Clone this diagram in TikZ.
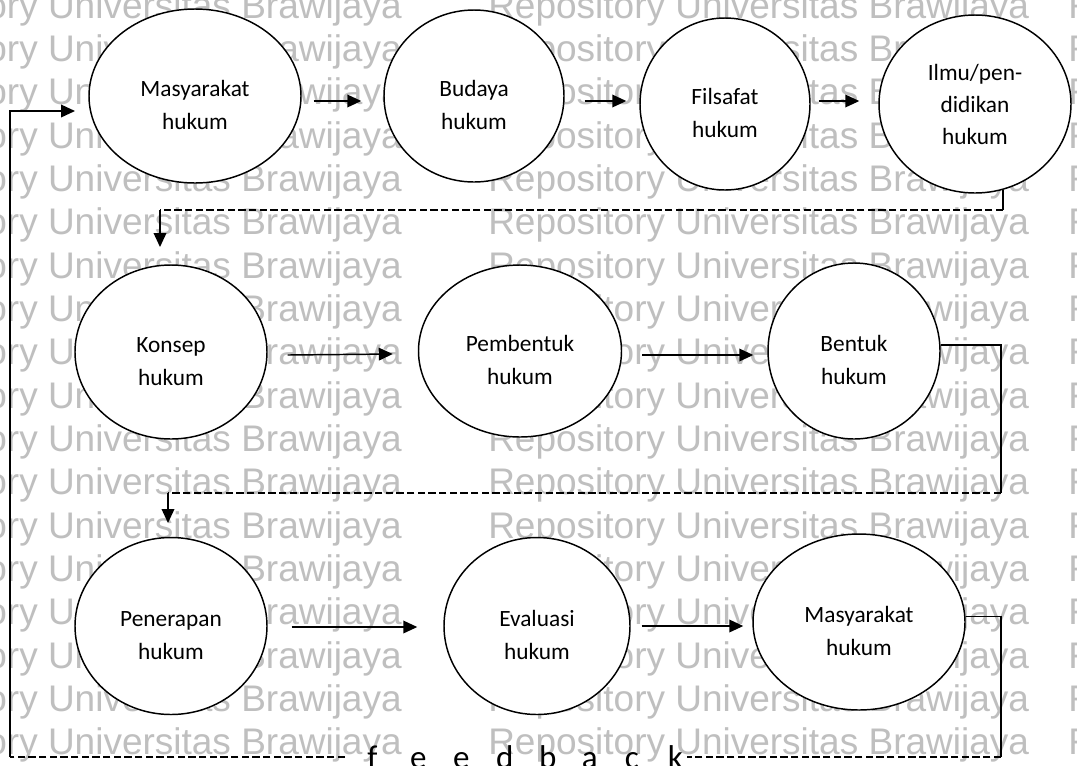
\documentclass[tikz,border=0pt]{standalone}
\usepackage{fontspec}
\setmainfont{Carlito}
\newfontfamily\wmfont{Liberation Sans}
\usetikzlibrary{shapes.geometric,arrows.meta,calc}
\newcommand\fbl[1]{\makebox[32.2pt][l]{#1}}
\begin{document}
\begin{tikzpicture}[x=0.75pt,y=-0.75pt,
  ell/.style={draw, line width=1.1pt, fill=white, ellipse, inner sep=0pt},
  lbl/.style={font=\fontsize{17.5}{24.75}\selectfont, align=center, inner sep=0pt, yshift=-7pt},
  lbl3/.style={font=\fontsize{17.5}{24}\selectfont, align=center, inner sep=0pt},
  arr/.style={line width=1.1pt, -{Triangle[length=10.5pt,width=9.5pt]}},
  ln/.style={line width=1.1pt},
  dsh/.style={line width=1.1pt, dash pattern=on 5.5pt off 2.5pt},
  wm/.style={font=\wmfont\fontsize{27.75}{27.75}\selectfont, text=black!25, inner sep=0pt},
  fbt/.style={font=\fontsize{24.75}{24.75}\selectfont, inner sep=0pt}
]
\useasboundingbox (0,0) rectangle (1077,765);
\clip (0,0) rectangle (1077,765);
\fill[white] (0,0) rectangle (1077,765);

% watermark
\foreach \r in {0,...,17}{
  \node[wm, anchor=base east] (wa\r) at (402, 18+43.35*\r) {Repository Universitas Brawijaya};
  \node[wm, anchor=base west] (wb\r) at (488, 18+43.35*\r) {Repository Universitas Brawijaya};
  \node[wm, anchor=base west] (wc\r) at (1068, 18+43.35*\r) {Repository Universitas Brawijaya};
}

% row 1
\node[ell, minimum width=159pt, minimum height=130.5pt, label={[lbl]center:{Masyarakat\\hukum}}] (m1) at (195,96) {};
\node[ell, minimum width=135pt, minimum height=129pt, label={[lbl]center:{Budaya\\hukum}}] (budaya) at (474,96) {};
\node[ell, minimum width=127.5pt, minimum height=129pt, label={[lbl]center:{Filsafat\\hukum}}] (filsafat) at (725,104) {};
\node[ell, minimum width=144pt, minimum height=133.5pt, label={[lbl3]center:{Ilmu/pen-\\didikan\\hukum}}] (ilmu) at (975,104) {};

% row 2
\node[ell, minimum width=144pt, minimum height=130.5pt, label={[lbl]center:{Konsep\\hukum}}] (konsep) at (171,352) {};
\node[ell, minimum width=152.25pt, minimum height=129pt, label={[lbl]center:{Pembentuk\\hukum}}] (pembentuk) at (520,351) {};
\node[ell, minimum width=129pt, minimum height=132pt, label={[lbl]center:{Bentuk\\hukum}}] (bentuk) at (854,351) {};

% row 3
\node[ell, minimum width=144pt, minimum height=132.75pt, label={[lbl]center:{Penerapan\\hukum}}] (penerapan) at (171,626) {};
\node[ell, minimum width=139.5pt, minimum height=132.75pt, label={[lbl]center:{Evaluasi\\hukum}}] (evaluasi) at (537,626) {};
\node[ell, minimum width=159pt, minimum height=132pt, label={[lbl]center:{Masyarakat\\hukum}}] (masy2) at (859,622) {};

% horizontal arrows
\draw[arr] ($(m1.east)+(12,5)$) -- ($(budaya.west)+(-22,5)$);
\draw[arr] ($(budaya.east)+(20,5)$) -- ($(filsafat.west)+(-13,-3)$);
\draw[arr] ($(filsafat.east)+(8,-3)$) -- ($(ilmu.west)+(-19,-3)$);
\draw[arr] ($(konsep.east)+(20,3)$) -- ($(pembentuk.west)+(-25,3)$);
\draw[arr] ($(pembentuk.east)+(20,4)$) -- ($(bentuk.west)+(-14,4)$);
\draw[arr] ($(penerapan.east)+(24,1)$) -- ($(evaluasi.west)+(-26,1)$);
\draw[arr] ($(evaluasi.east)+(11,0)$) -- ($(masy2.west)+(-9,4)$);

% Ilmu -> Konsep
\coordinate (c1) at (1002,210);
\coordinate (c2) at (160,210);
\coordinate (t2) at (160,247);
\draw[ln] (ilmu.-72) -- (ilmu.-72 |- c1);
\draw[dsh] (ilmu.-72 |- c1) -- (c2);
\draw[arr] (c2) -- (t2);

% Bentuk -> Penerapan
\coordinate (c3) at (1001,493);
\coordinate (c4) at (168,493);
\coordinate (t3) at (168,523);
\draw[ln] (bentuk.4) -| (c3);
\draw[dsh] (c3) -- (c4);
\draw[arr] (c4) -- (t3);

% feedback
\node[fbt, anchor=base west] (fb) at (345,768) {\hspace*{16.5pt}\fbl{f}\fbl{e}\fbl{e}\fbl{d}\fbl{b}\fbl{a}\fbl{c}k\hspace*{3pt}};
\coordinate (c5) at (1001,757);
\coordinate (c6) at (10,757);
\coordinate (t1) at (75,111);
\draw[ln] (masy2.3) -| (c5);
\draw[dsh] (c5) -- (c5 -| fb.east);
\draw[dsh] (c6 -| fb.west) -- (c6);
\draw[arr] (c6) |- (t1);
\end{tikzpicture}
\end{document}
